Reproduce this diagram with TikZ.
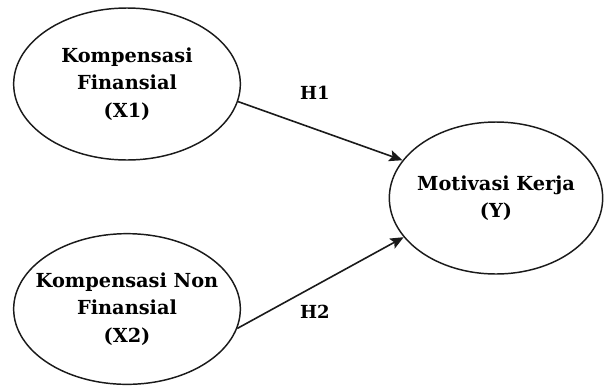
\documentclass[tikz,border=0pt]{standalone}
\usepackage{fontspec}
\setmainfont{DejaVu Serif}
\usetikzlibrary{arrows.meta, positioning, shapes.geometric}
\definecolor{cline}{HTML}{1A1A1A}
\tikzset{
  every picture/.style={font=\bfseries\fontsize{14.5}{20.5}\selectfont, line width=1.1pt},
  var/.style={ellipse, draw=cline, align=center, inner xsep=-14pt, inner ysep=0pt},
  arrow/.style={-{Stealth[length=10pt, width=8.5pt, inset=2pt]}, draw=cline, line width=1.2pt},
  hyp/.style={font=\bfseries\fontsize{13.5}{16}\selectfont},
}

\begin{document}
\begin{tikzpicture}[x=0.75pt, y=-0.75pt]
  \useasboundingbox (0,0) rectangle (606,386);
  % ---- the three variables ----
  \node[var, minimum width=170pt, minimum height=114pt] (x1) at (127,84)
    {Kompensasi\\Finansial\\(X1)};
  \node[var, minimum width=170pt, minimum height=113pt] (x2) at (127,309)
    {Kompensasi Non\\Finansial\\(X2)};
  \node[var, minimum width=160pt, minimum height=114pt] (y) at (496,198)
    {Motivasi Kerja\\(Y)};
  % ---- hypotheses ----
  \draw[arrow] (x1.-9) -- (y.158);
  \draw[arrow] (x2.-10) -- (y.203);
  \node[hyp] (h1) at (315,93) {H1};
  \node[hyp] (h2) at (315,312) {H2};
\end{tikzpicture}
\end{document}
